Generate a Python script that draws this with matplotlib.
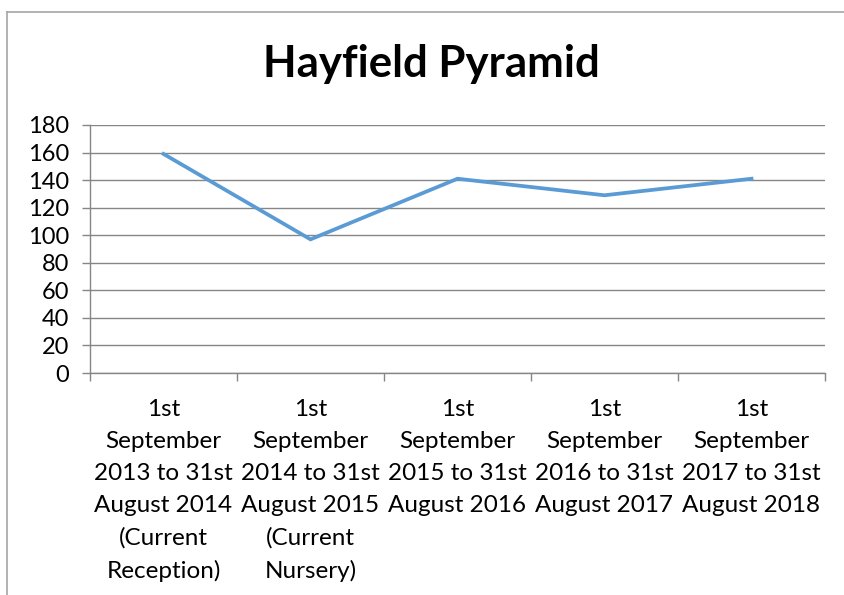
import numpy as np
import matplotlib
matplotlib.use('Agg')
import matplotlib.pyplot as plt
from matplotlib.lines import Line2D

plt.rc('font', family=['Lato', 'DejaVu Sans'])

title = "Hayfield Pyramid"
categories = [
    "1st\nSeptember\n2013 to 31st\nAugust 2014\n(Current\nReception)",
    "1st\nSeptember\n2014 to 31st\nAugust 2015\n(Current\nNursery)",
    "1st\nSeptember\n2015 to 31st\nAugust 2016",
    "1st\nSeptember\n2016 to 31st\nAugust 2017",
    "1st\nSeptember\n2017 to 31st\nAugust 2018",
]
values = [159, 97, 141, 129, 141]
yticks = [0, 20, 40, 60, 80, 100, 120, 140, 160, 180]

W, H = 845, 595
fig = plt.figure(figsize=(W/100, H/100), dpi=100)
ax = fig.add_axes((90/W, 1-373/H, (825-90)/W, (373-125)/H))

grid_c = '#868686'
x = np.arange(len(values))
ax.plot(x, values, color='#5B9BD5', lw=2.7, solid_joinstyle='miter')

ax.set_xlim(-0.5, len(values)-0.5)
ax.set_ylim(0, 180)
ax.set_yticks(yticks)
ax.yaxis.grid(True, color=grid_c, lw=1)
ax.set_axisbelow(True)

# category boundaries as major ticks, labels at centres
ax.set_xticks(np.arange(-0.5, len(values)))
ax.set_xticklabels([])
ax.set_xticks(x, minor=True)
ax.set_xticklabels(categories, minor=True, fontsize=17.5, linespacing=1.64, va='top')
ax.tick_params(axis='x', which='minor', length=0, pad=19)
ax.tick_params(axis='x', which='major', length=6, color=grid_c, width=1, direction='out')
ax.tick_params(axis='y', length=6, color=grid_c, width=1, labelsize=17, pad=9)

for s in ['top', 'right']:
    ax.spines[s].set_visible(False)
for s in ['left', 'bottom']:
    ax.spines[s].set_color(grid_c)
    ax.spines[s].set_linewidth(1)

fig.text(431/W, 1-64/H, title, ha='center', va='center', fontsize=31.5, fontweight='bold')

# outer chart border (left and top visible)
fig.add_artist(Line2D([7.5/W, 7.5/W], [0, 1-11.5/H], color='#a6a6a6', lw=1.2))
fig.add_artist(Line2D([7.5/W, 1], [1-11.5/H, 1-11.5/H], color='#a6a6a6', lw=1.2))

fig.savefig('out.png', dpi=100)
